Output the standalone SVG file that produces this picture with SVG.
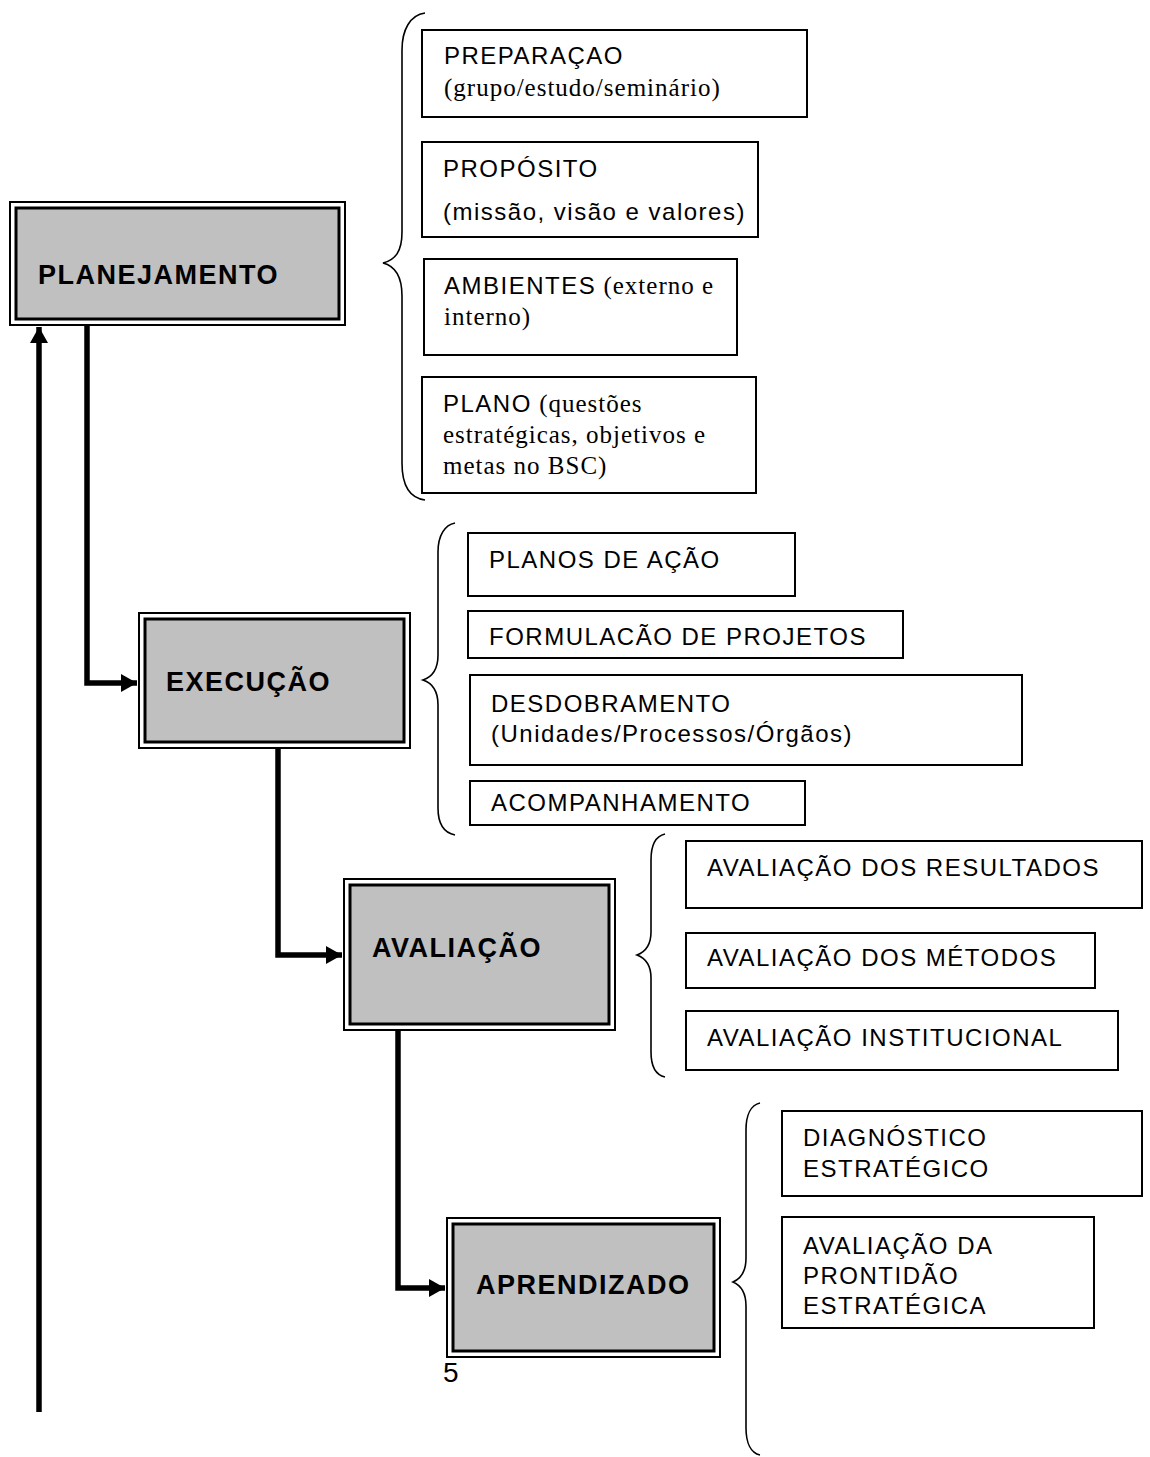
<svg xmlns="http://www.w3.org/2000/svg" width="1150" height="1457" viewBox="0 0 1150 1457">
<defs>
<style>
.box{fill:#fff;stroke:#000;stroke-width:2}
.outer{fill:#fff;stroke:#000;stroke-width:2}
.inner{fill:#c0c0c0;stroke:#000;stroke-width:3}
.s{font-family:"Liberation Sans",Arial,sans-serif;font-size:24px;letter-spacing:1.5px;fill:#000}
.r{font-family:"Liberation Serif","Times New Roman",serif;font-size:25px;letter-spacing:1px;fill:#000}
.b{font-family:"Liberation Sans",Arial,sans-serif;font-size:27px;font-weight:bold;letter-spacing:1.5px;fill:#000}
.conn{fill:none;stroke:#000;stroke-width:5.5}
.brace{fill:none;stroke:#000;stroke-width:1.6}
</style>
<marker id="ah" markerUnits="userSpaceOnUse" markerWidth="16" markerHeight="18" refX="16" refY="9" orient="auto">
<path d="M0,0 L16,9 L0,18 Z" fill="#000"/>
</marker>
</defs>

<g id="connectors">
<path class="conn" d="M87,325 L87,683 L137,683" marker-end="url(#ah)"/>
<path class="conn" d="M278,748 L278,955 L342,955" marker-end="url(#ah)"/>
<path class="conn" d="M398,1030 L398,1288 L445,1288" marker-end="url(#ah)"/>
<path class="conn" d="M39,1412 L39,327" marker-end="url(#ah)"/>
</g>

<g id="braces">
<path class="brace" d="M425,13 C410,15 402,30 402,50 L402,232 C402,252 395,260 383,263 C395,266 402,276 402,296 L402,463 C402,485 410,498 425,500"/>
<path class="brace" d="M455,523 C445,525 438,535 438,552 L438,655 C438,670 432,677 423,680 C432,683 438,690 438,705 L438,808 C438,825 445,833 455,835"/>
<path class="brace" d="M665,834 C656,836 651,845 651,860 L651,932 C651,946 645,952 637,955 C645,958 651,964 651,978 L651,1052 C651,1067 656,1075 665,1077"/>
<path class="brace" d="M760,1103 C751,1105 746,1115 746,1130 L746,1258 C746,1273 740,1279 733,1282 C740,1285 746,1291 746,1306 L746,1428 C746,1443 751,1453 760,1455"/>
</g>

<g id="planejamento">
<rect class="outer" x="10" y="202" width="335" height="123"/>
<rect class="inner" x="16" y="208" width="323" height="111"/>
<text class="b" x="38" y="284">PLANEJAMENTO</text>
</g>
<g id="execucao">
<rect class="outer" x="139" y="613" width="271" height="135"/>
<rect class="inner" x="145" y="619" width="259" height="123"/>
<text class="b" x="166" y="691">EXECUÇÃO</text>
</g>
<g id="avaliacao">
<rect class="outer" x="344" y="879" width="271" height="151"/>
<rect class="inner" x="350" y="885" width="259" height="139"/>
<text class="b" x="372" y="957">AVALIAÇÃO</text>
</g>
<g id="aprendizado">
<rect class="outer" x="447" y="1218" width="273" height="139"/>
<rect class="inner" x="453" y="1224" width="261" height="127"/>
<text class="b" x="476" y="1294">APRENDIZADO</text>
</g>

<g id="preparacao">
<rect class="box" x="422" y="30" width="385" height="87"/>
<text class="s" x="444" y="64">PREPARAÇAO</text>
<text class="r" x="444" y="96">(grupo/estudo/seminário)</text>
</g>
<g id="proposito">
<rect class="box" x="422" y="142" width="336" height="95"/>
<text class="s" x="443" y="177">PROPÓSITO</text>
<text class="s" x="443" y="220">(missão, visão e valores)</text>
</g>
<g id="ambientes">
<rect class="box" x="424" y="259" width="313" height="96"/>
<text x="444" y="294"><tspan class="s">AMBIENTES</tspan><tspan class="r"> (externo e</tspan></text>
<text class="r" x="444" y="325">interno)</text>
</g>
<g id="plano">
<rect class="box" x="422" y="377" width="334" height="116"/>
<text x="443" y="412"><tspan class="s">PLANO</tspan><tspan class="r"> (questões</tspan></text>
<text class="r" x="443" y="443">estratégicas, objetivos e</text>
<text class="r" x="443" y="474">metas no BSC)</text>
</g>

<g id="planos-acao">
<rect class="box" x="468" y="533" width="327" height="63"/>
<text class="s" x="489" y="568">PLANOS DE AÇÃO</text>
</g>
<g id="formulacao">
<rect class="box" x="468" y="611" width="435" height="47"/>
<text class="s" x="489" y="645">FORMULACÃO DE PROJETOS</text>
</g>
<g id="desdobramento">
<rect class="box" x="470" y="675" width="552" height="90"/>
<text class="s" x="491" y="712">DESDOBRAMENTO</text>
<text class="s" x="491" y="742">(Unidades/Processos/Órgãos)</text>
</g>
<g id="acompanhamento">
<rect class="box" x="470" y="781" width="335" height="44"/>
<text class="s" x="491" y="811">ACOMPANHAMENTO</text>
</g>

<g id="av-resultados">
<rect class="box" x="686" y="841" width="456" height="67"/>
<text class="s" x="707" y="876">AVALIAÇÃO DOS RESULTADOS</text>
</g>
<g id="av-metodos">
<rect class="box" x="686" y="933" width="409" height="55"/>
<text class="s" x="707" y="966">AVALIAÇÃO DOS MÉTODOS</text>
</g>
<g id="av-institucional">
<rect class="box" x="686" y="1011" width="432" height="59"/>
<text class="s" x="707" y="1046">AVALIAÇÃO INSTITUCIONAL</text>
</g>

<g id="diagnostico">
<rect class="box" x="782" y="1111" width="360" height="85"/>
<text class="s" x="803" y="1146">DIAGNÓSTICO</text>
<text class="s" x="803" y="1177">ESTRATÉGICO</text>
</g>
<g id="prontidao">
<rect class="box" x="782" y="1217" width="312" height="111"/>
<text class="s" x="803" y="1254">AVALIAÇÃO DA</text>
<text class="s" x="803" y="1284">PRONTIDÃO</text>
<text class="s" x="803" y="1314">ESTRATÉGICA</text>
</g>

<text id="page-number" x="443" y="1382" font-family="Liberation Sans, Arial, sans-serif" font-size="28" fill="#000">5</text>
</svg>
